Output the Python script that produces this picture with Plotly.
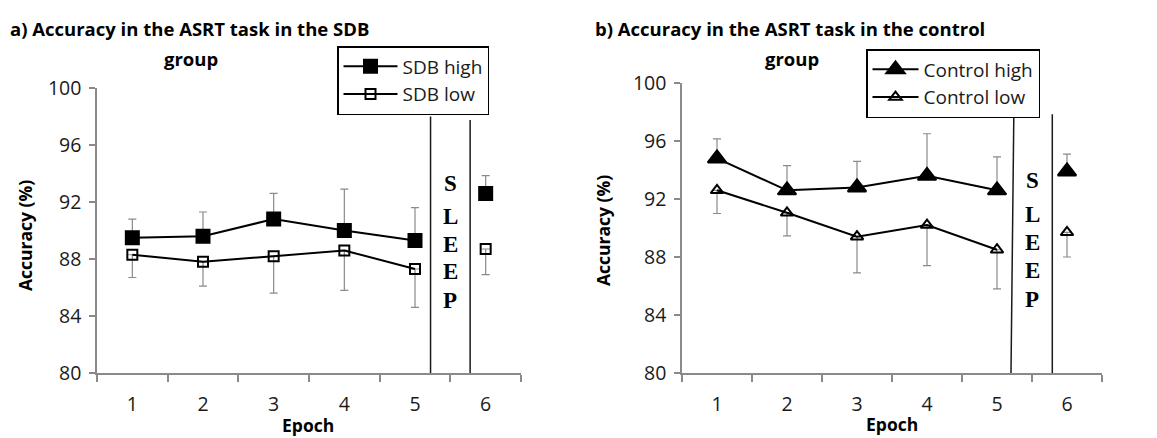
import plotly.graph_objects as go

epochs = [1, 2, 3, 4, 5, 6]
epoch_labels = ["1", "2", "3", "4", "5", "6"]

sdb_high = [89.5, 89.6, 90.8, 90.0, 89.3, 92.6]
sdb_high_err = [1.3, 1.7, 1.8, 2.9, 2.3, 1.25]
sdb_low = [88.3, 87.8, 88.2, 88.6, 87.3, 88.7]
sdb_low_err = [1.6, 1.7, 2.6, 2.8, 2.7, 1.8]

ctrl_high = [94.8, 92.6, 92.8, 93.6, 92.6, 93.9]
ctrl_high_err = [1.35, 1.7, 1.8, 2.9, 2.3, 1.2]
ctrl_low = [92.6, 91.05, 89.4, 90.2, 88.5, 89.7]
ctrl_low_err = [1.6, 1.6, 2.5, 2.8, 2.7, 1.7]

sleep_bounds_a = [5.22, 5.78]
sleep_tops_a = [98.0, 97.75]
sleep_bounds_b_top = [5.24, 5.79]
sleep_bounds_b_bottom = [5.20, 5.79]
sleep_tops_b = [97.65, 97.85]
sleep_letters = ["S", "L", "E", "E", "P"]
sleep_letter_y = [93.3, 90.95, 89.0, 87.1, 85.1]

W, H = 1157, 438
FONT = "Open Sans"
GREY = "#8a8a8a"
TXT = "#1a1a1a"

fig = go.Figure()


def add_series(name, y, err, upper, symbol, size, xa, ya, legend):
    zeros = [0] * len(err)
    up = err if upper else zeros
    dn = zeros if upper else err
    mk = dict(symbol=symbol, size=size, color="black", line=dict(color="black", width=2))
    fig.add_trace(go.Scatter(
        x=epochs[:5], y=y[:5], name=name, mode="lines+markers",
        line=dict(color="black", width=2), marker=mk,
        error_y=dict(type="data", symmetric=False, array=up[:5], arrayminus=dn[:5],
                     color=GREY, thickness=1.2, width=4),
        xaxis=xa, yaxis=ya, legend=legend, legendgroup=name, showlegend=True))
    fig.add_trace(go.Scatter(
        x=epochs[5:], y=y[5:], name=name, mode="markers", marker=mk,
        error_y=dict(type="data", symmetric=False, array=up[5:], arrayminus=dn[5:],
                     color=GREY, thickness=1.2, width=4),
        xaxis=xa, yaxis=ya, legend=legend, legendgroup=name, showlegend=False))


add_series("SDB high", sdb_high, sdb_high_err, True, "square", 13, "x", "y", "legend")
add_series("SDB low", sdb_low, sdb_low_err, False, "square-open", 10, "x", "y", "legend")
add_series("Control high", ctrl_high, ctrl_high_err, True, "triangle-up", 16, "x2", "y2", "legend2")
add_series("Control low", ctrl_low, ctrl_low_err, False, "triangle-up-open", 11, "x2", "y2", "legend2")

xcommon = dict(range=[0.5, 6.5], tickvals=epochs, ticktext=epoch_labels,
               ticks="", showgrid=False, zeroline=False,
               showline=True, linecolor=GREY, linewidth=1.5,
               tickfont=dict(family=FONT, size=19.5, color=TXT),
               ticklabelstandoff=13,
               minor=dict(tickvals=[0.5, 1.5, 2.5, 3.5, 4.5, 5.5, 6.5],
                          ticks="outside", ticklen=7, tickcolor=GREY, tickwidth=1.5),
               fixedrange=True)
ycommon = dict(range=[80, 100], tickvals=[80, 84, 88, 92, 96, 100],
               ticks="outside", ticklen=6, tickcolor=GREY, tickwidth=1.5,
               ticklabelstandoff=4,
               showgrid=False, zeroline=False, showline=True, linecolor=GREY,
               linewidth=1.5, tickfont=dict(family=FONT, size=19.5, color=TXT),
               fixedrange=True)

legend_common = dict(xanchor="left", yanchor="top", bordercolor="black", borderwidth=1.5,
                     bgcolor="white", font=dict(family=FONT, size=19, color=TXT),
                     traceorder="grouped", tracegroupgap=0)

fig.update_layout(
    width=W, height=H,
    margin=dict(l=0, r=0, t=0, b=0, pad=0, autoexpand=False),
    paper_bgcolor="white", plot_bgcolor="white",
    xaxis=dict(xcommon, domain=[97 / W, 521 / W], anchor="y"),
    yaxis=dict(ycommon, domain=[(H - 373) / H, (H - 88) / H], anchor="x"),
    xaxis2=dict(xcommon, domain=[682 / W, 1102 / W], anchor="y2"),
    yaxis2=dict(ycommon, domain=[(H - 373) / H, (H - 83) / H], anchor="x2"),
    legend=dict(legend_common, x=337 / W, y=(H - 46) / H, itemwidth=54),
    legend2=dict(legend_common, x=866 / W, y=(H - 49) / H, itemwidth=46),
    showlegend=True,
)

# sleep divider lines
for bx, top in zip(sleep_bounds_a, sleep_tops_a):
    fig.add_shape(type="line", xref="x", yref="y", x0=bx, x1=bx, y0=80, y1=top,
                  line=dict(color=TXT, width=1.5))
for bt, bb, top in zip(sleep_bounds_b_top, sleep_bounds_b_bottom, sleep_tops_b):
    fig.add_shape(type="line", xref="x2", yref="y2", x0=bb, x1=bt, y0=80, y1=top,
                  line=dict(color=TXT, width=1.5))
for xa, ya in [("x", "y"), ("x2", "y2")]:
    for letter, ly in zip(sleep_letters, sleep_letter_y):
        fig.add_annotation(xref=xa, yref=ya, x=5.5, y=ly, text="<b>%s</b>" % letter,
                           showarrow=False, xanchor="center", yanchor="middle",
                           font=dict(family="Liberation Serif", size=23, color="black"))

# titles
title_font = dict(family=FONT, size=18.5, color="black")
for x, y, txt, anc in [(8, 28, "a) Accuracy in the ASRT task in the SDB", "left"),
                       (191, 58, "group", "center"),
                       (593, 28, "b) Accuracy in the ASRT task in the control", "left"),
                       (792, 58, "group", "center")]:
    fig.add_annotation(xref="paper", yref="paper", x=x / W, y=(H - y) / H,
                       xanchor=anc, yanchor="middle", showarrow=False,
                       text="<b>%s</b>" % txt, font=title_font)

# axis titles
ax_font = dict(family=FONT, size=17.5, color="black")
for x, y in [(25, 236), (603, 231)]:
    fig.add_annotation(xref="paper", yref="paper", x=x / W, y=(H - y) / H,
                       xanchor="center", yanchor="middle",
                       textangle=-90, showarrow=False, text="<b>Accuracy (%)</b>",
                       font=ax_font)
for x, y in [(308, 425), (892, 424)]:
    fig.add_annotation(xref="paper", yref="paper", x=x / W, y=(H - y) / H,
                       xanchor="center", yanchor="middle",
                       showarrow=False, text="<b>Epoch</b>", font=ax_font)

fig.write_html(
    "out.html",
    config={"displayModeBar": False},
    post_script="document.body.style.margin='0';document.body.style.overflow='hidden';",
)
